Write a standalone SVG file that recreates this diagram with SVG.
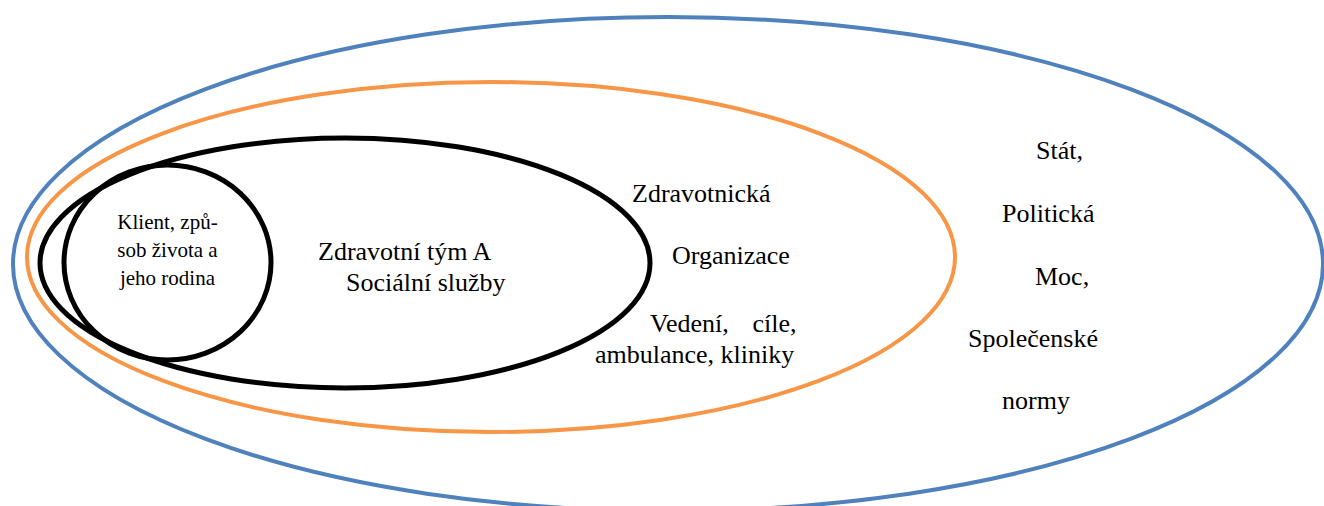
<svg xmlns="http://www.w3.org/2000/svg" width="1324" height="506" viewBox="0 0 1324 506">
  <style>
    .ring { fill: none; }
    .blue { stroke: #4F81BD; stroke-width: 4; }
    .orange { stroke: #F79646; stroke-width: 4; }
    .black { stroke: #000000; stroke-width: 5; }
    text { font-family: "Liberation Serif", "Times New Roman", serif; fill: #000000; }
    .big { font-size: 26px; }
    .small { font-size: 21px; }
  </style>
  <rect width="1324" height="506" fill="#ffffff"/>
  <g id="stat">
    <ellipse class="ring blue" cx="668" cy="264" rx="655" ry="247"/>
    <text class="big" x="1036" y="159">Stát,</text>
    <text class="big" x="1002" y="222">Politická</text>
    <text class="big" x="1035" y="285">Moc,</text>
    <text class="big" x="968" y="347">Společenské</text>
    <text class="big" x="1002" y="409">normy</text>
  </g>
  <g id="organizace">
    <ellipse class="ring orange" cx="491" cy="257" rx="464" ry="175"/>
    <text class="big" x="632" y="202">Zdravotnická</text>
    <text class="big" x="672" y="264">Organizace</text>
    <text class="big" y="332"><tspan x="650">Vedení,</tspan><tspan x="796.5" text-anchor="end">cíle,</tspan></text>
    <text class="big" x="595" y="363">ambulance, kliniky</text>
  </g>
  <g id="tym">
    <ellipse class="ring black" cx="345" cy="263" rx="305" ry="125"/>
    <text class="big" x="318" y="260">Zdravotní tým A</text>
    <text class="big" x="346" y="291">Sociální služby</text>
  </g>
  <g id="klient">
    <ellipse class="ring black" cx="167.5" cy="262.5" rx="103.5" ry="97.5"/>
    <text class="small" x="167.5" y="229" text-anchor="middle">Klient, způ-</text>
    <text class="small" x="167.5" y="257" text-anchor="middle">sob života a</text>
    <text class="small" x="167.5" y="285" text-anchor="middle">jeho rodina</text>
  </g>
  <g id="connectors"/>
</svg>
